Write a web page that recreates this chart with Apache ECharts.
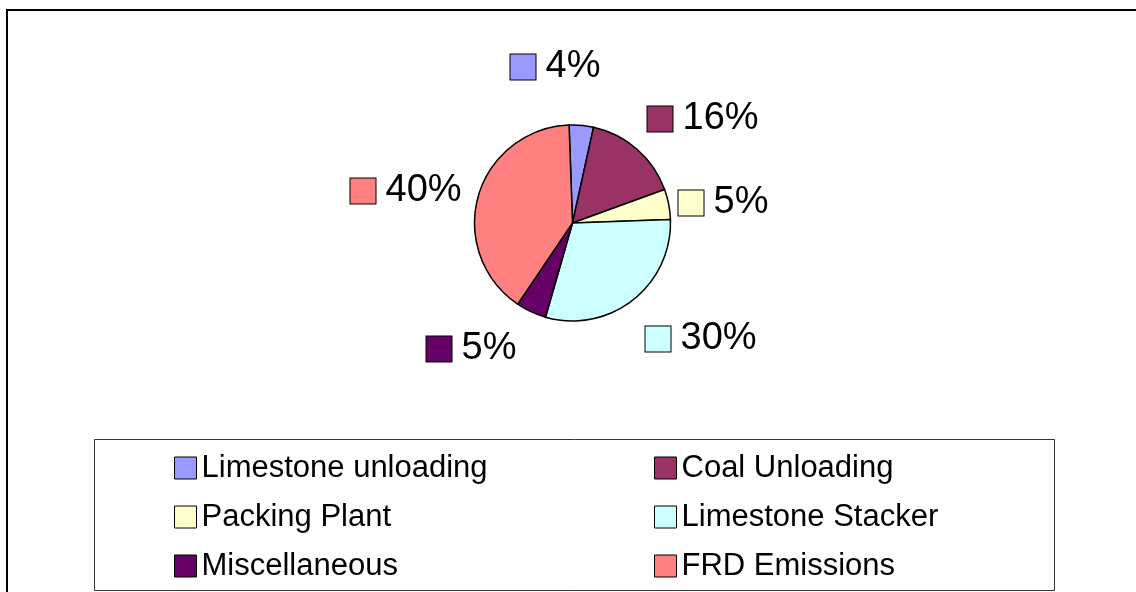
<!DOCTYPE html>
<html>
<head>
<meta charset="utf-8">
<title>Emission sources</title>
<script src="https://cdn.jsdelivr.net/npm/echarts@6/dist/echarts.min.js"></script>
<style>
  html, body { margin: 0; padding: 0; background: #ffffff; }
  #chart { width: 1136px; height: 592px; }
</style>
</head>
<body>
<div id="chart"></div>
<script>
// Emission sources and their share (%)
const categories = ['Limestone unloading', 'Coal Unloading', 'Packing Plant', 'Limestone Stacker', 'Miscellaneous', 'FRD Emissions'];
const shares = [4, 16, 5, 30, 5, 40];
const sliceColors = ['#9999FF', '#993366', '#FFFFCC', '#CCFFFF', '#660066', '#FF8080'];

// Legend columns (read row by row, two per row)
const legendLeftColumn = ['Limestone unloading', 'Packing Plant', 'Miscellaneous'];
const legendRightColumn = ['Coal Unloading', 'Limestone Stacker', 'FRD Emissions'];

// Pie geometry and where each value tag sits, relative to the pie centre
const pieCenter = [572.5, 223];
const pieRadius = 98;
const tagOffsets = [[-62, -156], [75, -104], [106, -20], [73, 116], [-146, 126], [-222, -32]];

const FONT = '"Liberation Sans", Arial, sans-serif';

const chart = echarts.init(document.getElementById('chart'), null, { renderer: 'canvas' });

const pieData = categories.map((name, i) => ({
  name: name,
  value: shares[i],
  itemStyle: { color: sliceColors[i] },
  label: { rich: { box: { backgroundColor: sliceColors[i] } } }
}));

const legendCommon = {
  orient: 'vertical',
  icon: 'rect',
  itemWidth: 22,
  itemHeight: 22,
  itemGap: 13,
  padding: 0,
  top: 450,
  selectedMode: false,
  itemStyle: { borderColor: '#000000', borderWidth: 1 },
  textStyle: { fontFamily: FONT, fontSize: 31, color: '#000000', lineHeight: 36 }
};

chart.setOption({
  animation: false,
  backgroundColor: '#ffffff',
  graphic: [
    {
      type: 'rect',
      shape: { x: 7, y: 10, width: 1300, height: 800 },
      style: { fill: 'none', stroke: '#000000', lineWidth: 2 },
      silent: true, z: 0
    },
    {
      type: 'rect',
      shape: { x: 94.5, y: 439.5, width: 960, height: 151 },
      style: { fill: '#ffffff', stroke: '#333333', lineWidth: 1 },
      silent: true, z: 0
    }
  ],
  legend: [
    Object.assign({}, legendCommon, { left: 174, data: legendLeftColumn }),
    Object.assign({}, legendCommon, { left: 654, data: legendRightColumn })
  ],
  series: [{
    type: 'pie',
    center: pieCenter,
    radius: pieRadius,
    startAngle: 92,
    clockwise: true,
    avoidLabelOverlap: false,
    emphasis: { disabled: true },
    itemStyle: { borderColor: '#000000', borderWidth: 1.5 },
    labelLine: { show: false },
    label: {
      show: true,
      position: 'outside',
      formatter: p => '{box|}{val|' + p.value + '%}',
      rich: {
        box: { width: 25, height: 25, borderColor: '#000000', borderWidth: 1 },
        val: { fontFamily: FONT, fontSize: 38, color: '#000000', padding: [0, 0, 0, 10] }
      }
    },
    labelLayout: params => {
      const o = tagOffsets[params.dataIndex];
      return { x: pieCenter[0] + o[0], y: pieCenter[1] + o[1], align: 'left', verticalAlign: 'middle' };
    },
    data: pieData,
    z: 2
  }]
});
</script>
</body>
</html>
